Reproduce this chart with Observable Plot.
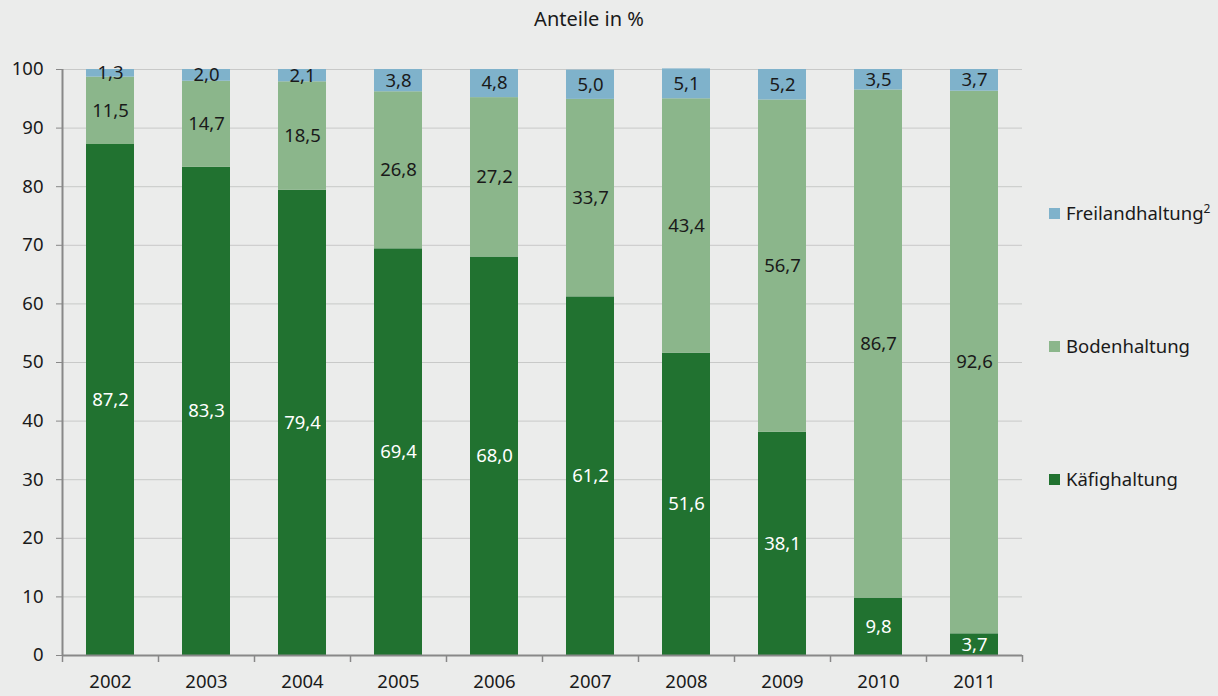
<!DOCTYPE html>
<html>
<head>
<meta charset="utf-8">
<script src="https://cdn.jsdelivr.net/npm/d3@7"></script>
<script src="https://cdn.jsdelivr.net/npm/@observablehq/plot@0.6"></script>
<style>
  html, body { margin: 0; padding: 0; background: #ebeceb; }
  body { width: 1218px; height: 696px; position: relative; overflow: hidden; font-family: "Noto Sans", sans-serif; color: #1a1a1a; }
  #title { position: absolute; left: 0; width: 1178px; top: 4px; text-align: center; font-size: 20px; line-height: 30px; }
  #chart { position: absolute; left: 0; top: 40px; }
  .leg { position: absolute; left: 1049px; font-size: 18.5px; line-height: 24px; display: flex; align-items: center; white-space: nowrap; }
  .sw { width: 11px; height: 11px; margin-right: 6px; display: inline-block; }
  sup { font-size: 12px; position: relative; top: -4px; }
</style>
</head>
<body>
<div id="title">Anteile in %</div>
<div id="chart"></div>
<div class="leg" style="top:201px"><span class="sw" style="background:#7fb2cb"></span>Freilandhaltung<sup>2</sup></div>
<div class="leg" style="top:334px"><span class="sw" style="background:#8bb68b"></span>Bodenhaltung</div>
<div class="leg" style="top:467px"><span class="sw" style="background:#217230"></span>Käfighaltung</div>
<script>
const years = ["2002","2003","2004","2005","2006","2007","2008","2009","2010","2011"];
const kaefig = [87.2, 83.3, 79.4, 69.4, 68.0, 61.2, 51.6, 38.1, 9.8, 3.7];
const boden = [11.5, 14.7, 18.5, 26.8, 27.2, 33.7, 43.4, 56.7, 86.7, 92.6];
const freiland = [1.3, 2.0, 2.1, 3.8, 4.8, 5.0, 5.1, 5.2, 3.5, 3.7];
const seriesNames = ["Käfighaltung", "Bodenhaltung", "Freilandhaltung"];
const seriesColors = ["#217230", "#8bb68b", "#7fb2cb"];
const labelColors = ["#ffffff", "#1a1a1a", "#1a1a1a"];
const yTicks = [0,10,20,30,40,50,60,70,80,90,100];

const seriesValues = [kaefig, boden, freiland];
const rows = [];
years.forEach((yr, i) => {
  seriesNames.forEach((s, j) => {
    rows.push({year: yr, series: s, value: seriesValues[j][i], label: labelColors[j]});
  });
});
const fmt = v => d3.format(".1f")(v).replace(".", ",");

const W = 1218, H = 656, mL = 62, mR = 196;
const step = (W - mL - mR) / years.length;

const chart = Plot.plot({
  width: W,
  height: H,
  marginLeft: mL,
  marginRight: mR,
  marginTop: 29,
  marginBottom: 41,
  style: {background: "transparent", fontFamily: "Noto Sans, sans-serif", fontSize: "19px", color: "#1a1a1a"},
  x: {domain: years, paddingInner: 0.5, paddingOuter: 0.25, label: null},
  y: {domain: [0, 100], label: null},
  color: {domain: seriesNames, range: seriesColors},
  marks: [
    Plot.gridY(yTicks, {stroke: "#c8c9c8", strokeOpacity: 1, strokeWidth: 1}),
    Plot.barY(rows, {x: "year", y: "value", fill: "series", order: seriesNames}),
    Plot.text(rows, Plot.stackY({x: "year", y: "value", z: "series", order: seriesNames, text: d => fmt(d.value), fill: "label", fontSize: 18.5})),
    Plot.ruleY([0], {stroke: "#888", strokeWidth: 2}),
    Plot.ruleX([years[0]], {x: d => d, y1: 0, y2: 100, dx: -step / 2, stroke: "#888", strokeWidth: 2}),
    Plot.axisY(yTicks, {tickSize: 6, tickPadding: 13, stroke: "#888", fontSize: 18.5, fill: "#1a1a1a"}),
    Plot.axisX({tickSize: 0, tickPadding: 19, fontSize: 18.5, fill: "#1a1a1a"}),
    Plot.ruleX(years, {x: d => d, y1: 0, y2: 0, insetBottom: -7, dx: -step / 2, stroke: "#888", strokeWidth: 1.5}),
    Plot.ruleX([years[years.length - 1]], {x: d => d, y1: 0, y2: 0, insetBottom: -7, dx: step / 2, stroke: "#888", strokeWidth: 1.5})
  ]
});
document.getElementById("chart").appendChild(chart);
</script>
</body>
</html>
